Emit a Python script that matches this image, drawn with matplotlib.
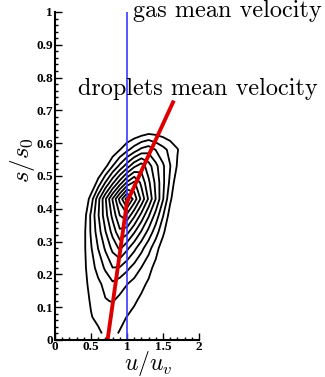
import numpy as np
import matplotlib
matplotlib.use("Agg")
import matplotlib.pyplot as plt
from matplotlib.ticker import MultipleLocator

# grid of the joint (u/u_v, s/s0) histogram
u_grid = [0.3, 0.4, 0.5, 0.6, 0.7, 0.8, 0.9, 1.0, 1.1, 1.2, 1.3, 1.4, 1.5, 1.6, 1.7, 1.8, 1.9]
s_grid = [0.02, 0.07, 0.12, 0.17, 0.22, 0.28, 0.33, 0.38, 0.43, 0.48, 0.53, 0.58, 0.63, 0.68]
density = [
    [0, 0.17, 0.5, 0.83, 1.17, 1.17, 0.94, 0.72, 0.5, 0.28, 0.06, 0, 0, 0, 0, 0, 0],
    [0.4, 0.67, 0.95, 1.22, 1.49, 1.46, 1.22, 0.98, 0.74, 0.5, 0.26, 0.02, 0, 0, 0, 0, 0],
    [0.23, 0.66, 1.09, 1.51, 1.94, 2.07, 1.75, 1.44, 1.13, 0.81, 0.49, 0.18, 0, 0, 0, 0, 0],
    [0.23, 0.74, 1.26, 1.77, 2.29, 2.8, 2.41, 2.02, 1.63, 1.23, 0.84, 0.45, 0.06, 0, 0, 0, 0],
    [0, 0.76, 1.56, 2.37, 3.17, 3.98, 3.91, 3.26, 2.62, 1.97, 1.32, 0.68, 0.03, 0, 0, 0, 0],
    [0, 0.77, 1.9, 3.03, 4.16, 5.28, 6.2, 5.24, 4.28, 3.31, 2.35, 1.39, 0.42, 0, 0, 0, 0],
    [0, 0.72, 2.13, 3.54, 4.95, 6.36, 7.78, 7.35, 6.13, 4.91, 3.69, 2.47, 1.24, 0.02, 0, 0, 0],
    [0, 0.49, 2.19, 3.9, 5.6, 7.3, 9.01, 9.74, 8.21, 6.67, 5.14, 3.61, 2.07, 0.54, 0, 0, 0],
    [0, 0, 1.44, 3.65, 5.87, 8.08, 10.29, 12.5, 10.61, 8.73, 6.84, 4.96, 3.07, 1.19, 0, 0, 0],
    [0, 0, 0, 1.34, 3.04, 4.74, 6.44, 8.14, 9.2, 7.71, 6.22, 4.73, 3.24, 1.75, 0.25, 0, 0],
    [0, 0, 0, 0, 0.75, 2.01, 3.27, 4.53, 5.79, 6.57, 5.44, 4.3, 3.16, 2.03, 0.89, 0, 0],
    [0, 0, 0, 0, 0, 0.24, 0.98, 1.76, 2.51, 3.27, 3.61, 2.97, 2.34, 1.7, 1.06, 0.43, 0],
    [0, 0, 0, 0, 0, 0, 0, 0, 0.3, 0.6, 0.9, 0.8, 0.6, 0.4, 0.3, 0, 0],
    [0, 0, 0, 0, 0, 0, 0, 0, 0, 0, 0, 0, 0, 0, 0, 0, 0],
]
contour_levels = [1, 2, 3, 4, 5, 6, 7, 8, 9, 10, 11, 12]

# mean velocity lines
gas_u = [1.0, 1.0]
gas_s = [0.0, 1.0]
drop_u = [0.73, 1.0, 1.65]
drop_s = [0.0, 0.42, 0.73]

x_ticks = [0, 0.5, 1, 1.5, 2]
x_tick_labels = ["0", "0.5", "1", "1.5", "2"]
y_ticks = [0, 0.1, 0.2, 0.3, 0.4, 0.5, 0.6, 0.7, 0.8, 0.9, 1]
y_tick_labels = ["0", "0.1", "0.2", "0.3", "0.4", "0.5", "0.6", "0.7", "0.8", "0.9", "1"]


def make_plot():
    plt.rcParams['mathtext.fontset'] = 'cm'

    fig = plt.figure(figsize=(3.25, 3.77), dpi=100)
    ax = fig.add_axes([55 / 325, 37 / 377, 144 / 325, 328 / 377])

    ax.contour(u_grid, s_grid, np.array(density), levels=contour_levels,
               colors='black', linewidths=1.3)
    ax.plot(gas_u, gas_s, color='#3a3aff', linewidth=1.2)
    ax.plot(drop_u, drop_s, color='#dd0000', linewidth=2.8, solid_capstyle='butt')

    ax.text(1.08, 0.985, "gas mean velocity", fontfamily='cmr10', fontsize=17.5,
            ha='left', va='baseline', clip_on=False)
    ax.text(0.32, 0.747, "droplets mean velocity", fontfamily='cmr10', fontsize=17.5,
            ha='left', va='baseline', clip_on=False)

    ax.set_xlim(0, 2)
    ax.set_ylim(0, 1)
    for side in ['top', 'right']:
        ax.spines[side].set_visible(False)
    for side in ['left', 'bottom']:
        ax.spines[side].set_linewidth(1.5)

    ax.set_xticks(x_ticks)
    ax.set_xticklabels(x_tick_labels)
    ax.set_yticks(y_ticks)
    ax.set_yticklabels(y_tick_labels)
    ax.xaxis.set_minor_locator(MultipleLocator(0.1))
    ax.yaxis.set_minor_locator(MultipleLocator(0.02))
    ax.tick_params(which='both', direction='in', width=1.0, pad=1.5)
    ax.tick_params(axis='x', pad=1)
    ax.tick_params(which='major', length=5)
    ax.tick_params(which='minor', length=2.5)
    for lab in ax.get_xticklabels() + ax.get_yticklabels():
        lab.set_fontfamily('Liberation Serif')
        lab.set_fontweight('bold')
        lab.set_fontsize(9.5)

    # axis titles placed by hand like the original
    ax.text(0.646, -0.0915, r"$u/u_v$", transform=ax.transAxes, fontsize=17,
            ha='center', va='baseline')
    ax.text(-0.229, 0.549, r"$s/s_0$", transform=ax.transAxes, fontsize=18,
            rotation=90, ha='center', va='center')

    fig.savefig("out.png", dpi=100)
    plt.close(fig)


if __name__ == "__main__":
    make_plot()
